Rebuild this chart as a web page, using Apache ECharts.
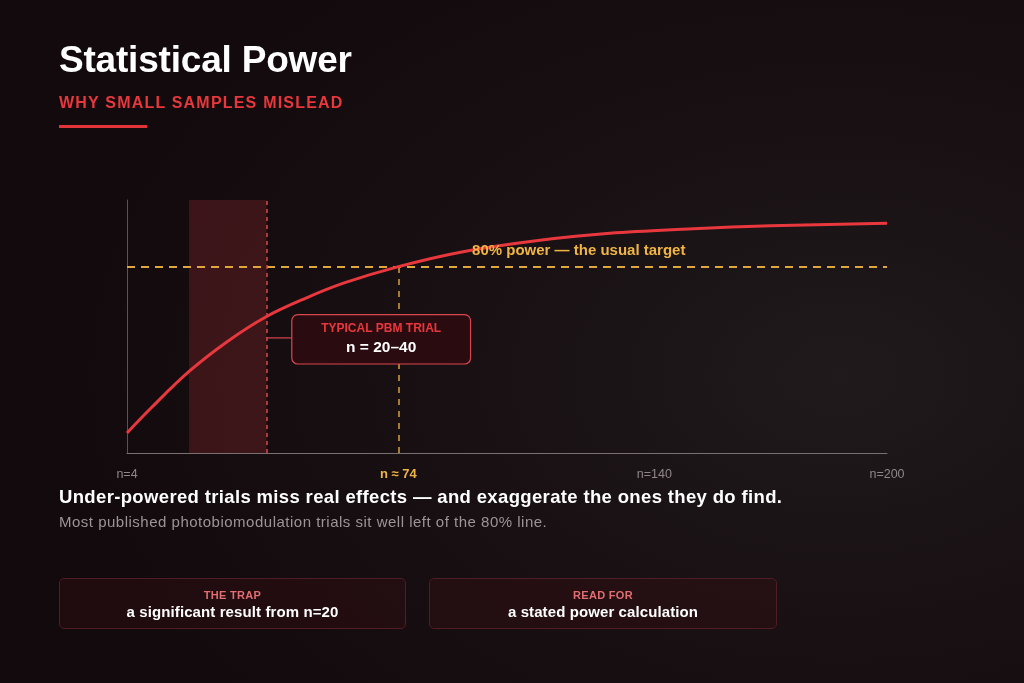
<!DOCTYPE html>
<html><head><meta charset="utf-8">
<script src="https://cdn.jsdelivr.net/npm/echarts@6/dist/echarts.min.js"></script>
<style>
html,body{margin:0;padding:0;width:1024px;height:683px;overflow:hidden;background:#130a0c;font-family:'Liberation Sans',Arial,Helvetica,sans-serif;}
#bg{position:absolute;left:0;top:0;width:1024px;height:683px;background:radial-gradient(ellipse 75% 75% at 82% 55%, #201a1c 0%, #181012 50%, #120a0c 100%);}
#chart{position:absolute;left:0;top:0;width:1024px;height:683px;}
.t{position:absolute;white-space:nowrap;}
#title{left:59px;top:39px;font-size:37px;font-weight:bold;color:#ffffff;letter-spacing:-0.2px;}
#sub{left:59px;top:94px;font-size:16px;font-weight:bold;color:#e8383d;letter-spacing:1.2px;}
#bar{position:absolute;left:59px;top:125px;width:88px;height:3px;background:#e0343a;}
#lead{left:59px;top:486px;font-size:18.5px;font-weight:bold;color:#ffffff;letter-spacing:0.35px;}
#note{left:59px;top:513px;font-size:15px;color:#9c9597;letter-spacing:0.5px;}
.box{position:absolute;top:578px;height:49px;border:1px solid #4f1d23;border-radius:5px;background:rgba(60,14,20,0.35);text-align:center;}
.box .k{margin-top:10px;font-size:11px;font-weight:bold;color:#e26e73;letter-spacing:0.3px;}
.box .v{margin-top:2px;font-size:15px;font-weight:bold;color:#ffffff;letter-spacing:0.1px;}
</style></head>
<body>
<div id="bg"></div>
<div id="chart"></div>
<div class="t" id="title">Statistical Power</div>
<div class="t" id="sub">WHY SMALL SAMPLES MISLEAD</div>
<div id="bar"></div>
<div class="t" id="lead">Under-powered trials miss real effects — and exaggerate the ones they do find.</div>
<div class="t" id="note">Most published photobiomodulation trials sit well left of the 80% line.</div>
<div class="box" style="left:59px;width:345px;"><div class="k">THE TRAP</div><div class="v">a significant result from n=20</div></div>
<div class="box" style="left:429px;width:346px;"><div class="k">READ FOR</div><div class="v">a stated power calculation</div></div>
<script>
// ---- data ----
const sampleSizes = [4, 10, 20, 30, 40, 50, 60, 74, 90, 110, 130, 150, 170, 200];
const powerValues = [0.086, 0.19, 0.35, 0.48, 0.586, 0.664, 0.73, 0.80, 0.862, 0.912, 0.945, 0.963, 0.975, 0.986];
const tickValues = [4, 74, 140, 200];
const targetPower = 0.8;
const targetN = 74;
const typicalRange = [20, 40];
const targetLabel = '80% power — the usual target';
const boxTitle = 'TYPICAL PBM TRIAL';
const boxValue = 'n = 20–40';

const chart = echarts.init(document.getElementById('chart'), null, {renderer: 'canvas'});
const FONT = "'Liberation Sans', Arial, sans-serif";
const option = {
  backgroundColor: 'transparent',
  animation: false,
  grid: {left: 127, right: 137, top: 200, bottom: 230},
  xAxis: {
    type: 'value', min: 4, max: 200,
    axisLine: {show: true, lineStyle: {color: '#7a7072', width: 1}},
    axisTick: {show: false},
    splitLine: {show: false},
    axisLabel: {
      customValues: tickValues,
      margin: 15,
      fontFamily: FONT, fontSize: 12.5, color: '#8e8688',
      formatter: function (v) { return v === targetN ? '{hl|n ≈ ' + v + '}' : 'n=' + v; },
      rich: {hl: {color: '#f0b545', fontWeight: 'bold', fontSize: 13, fontFamily: FONT}}
    }
  },
  yAxis: {
    type: 'value', min: 0, max: 1.086,
    axisLine: {show: true, lineStyle: {color: '#5a5153', width: 1}},
    axisTick: {show: false}, axisLabel: {show: false}, splitLine: {show: false}
  },
  series: [{
    type: 'line',
    data: sampleSizes.map((n, i) => [n, powerValues[i]]),
    smooth: 0.35, symbol: 'none',
    lineStyle: {color: '#e8383d', width: 3},
    z: 5,
    markArea: {
      silent: true,
      itemStyle: {color: 'rgba(130,38,45,0.37)'},
      data: [[{xAxis: typicalRange[0]}, {xAxis: typicalRange[1]}]]
    },
    markLine: {
      silent: true, symbol: 'none', label: {show: false},
      data: [
        {yAxis: targetPower, lineStyle: {color: '#e0a83c', type: [8, 6], width: 2}},
        [{coord: [targetN, 0], lineStyle: {color: '#d6a040', type: [6, 6], width: 1.5}}, {coord: [targetN, targetPower]}],
        {xAxis: typicalRange[1], lineStyle: {color: '#d9474e', type: [4, 4], width: 1.5}}
      ]
    }
  }]
};
chart.setOption(option);

function px(x, y) { return chart.convertToPixel({gridIndex: 0}, [x, y]); }
const lab = px(120.5, targetPower);
const b0 = px(46.5, 0.594), b1 = px(92.6, 0.382);
const c0 = px(typicalRange[1], 0.494);
const bw = b1[0] - b0[0], bh = b1[1] - b0[1];
chart.setOption({
  graphic: [
    {type: 'text', x: lab[0], y: lab[1] - 16, z: 10,
      style: {text: targetLabel, fill: '#f0b545', font: 'bold 15px ' + FONT, textAlign: 'center', textVerticalAlign: 'middle'}},
    {type: 'line', z: 9, shape: {x1: c0[0], y1: c0[1], x2: b0[0], y2: c0[1]},
      style: {stroke: '#d9474e', lineWidth: 1.2}},
    {type: 'rect', z: 10, shape: {x: b0[0], y: b0[1], width: bw, height: bh, r: 6},
      style: {fill: '#2a0b0f', stroke: '#d9474e', lineWidth: 1.2}},
    {type: 'text', z: 11, x: b0[0] + bw / 2, y: b0[1] + 14,
      style: {text: boxTitle, fill: '#e8383d', font: 'bold 12px ' + FONT, textAlign: 'center', textVerticalAlign: 'middle'}},
    {type: 'text', z: 11, x: b0[0] + bw / 2, y: b0[1] + 33,
      style: {text: boxValue, fill: '#ffffff', font: 'bold 15.5px ' + FONT, textAlign: 'center', textVerticalAlign: 'middle'}}
  ]
});
</script>
</body></html>
